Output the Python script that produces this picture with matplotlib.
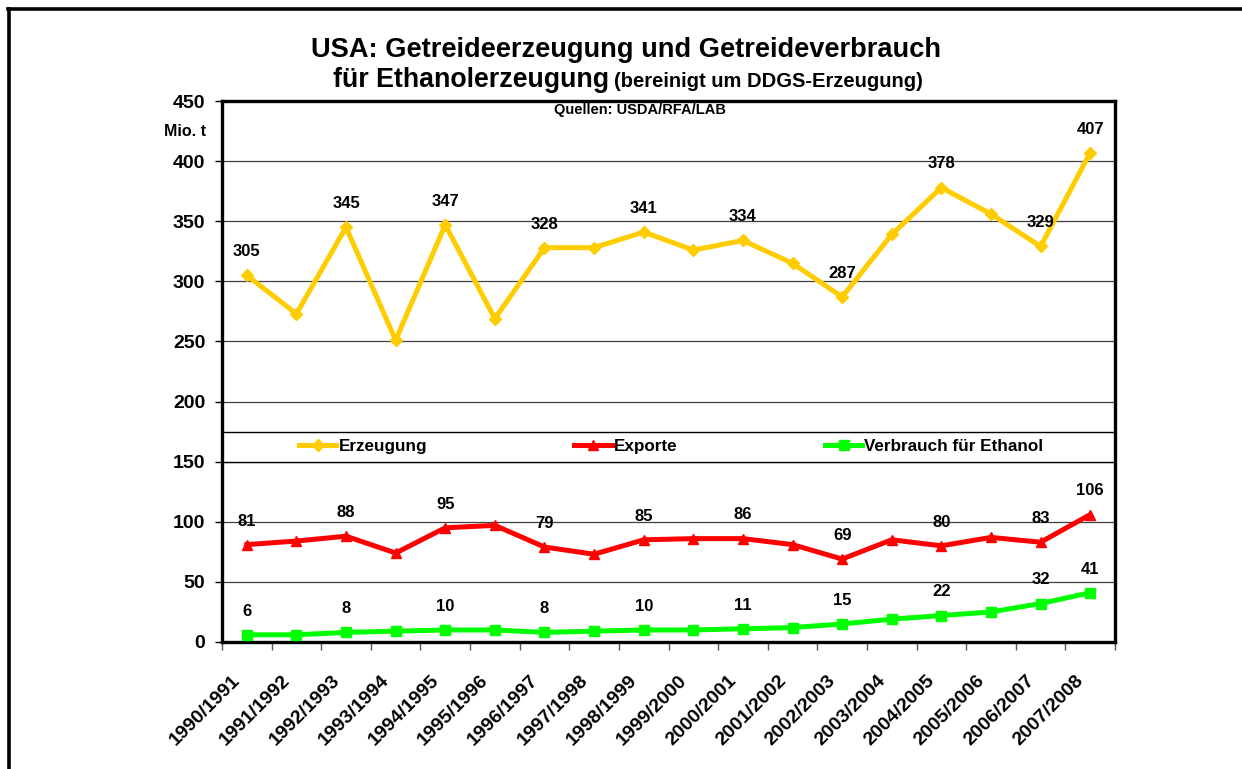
import matplotlib
matplotlib.use("Agg")
import matplotlib.pyplot as plt
from matplotlib.lines import Line2D
from matplotlib.patches import Rectangle
from matplotlib.transforms import ScaledTranslation

plt.rcParams['font.family'] = ['Liberation Sans', 'DejaVu Sans']
plt.rcParams['font.weight'] = 'bold'

# Daten (Mio. t)
jahre = ['1990/1991', '1991/1992', '1992/1993', '1993/1994', '1994/1995', '1995/1996',
         '1996/1997', '1997/1998', '1998/1999', '1999/2000', '2000/2001', '2001/2002',
         '2002/2003', '2003/2004', '2004/2005', '2005/2006', '2006/2007', '2007/2008']
erzeugung = [305, 273, 345, 251, 347, 269, 328, 328, 341, 326, 334, 315, 287, 339, 378, 356, 329, 407]
exporte = [81, 84, 88, 74, 95, 97, 79, 73, 85, 86, 86, 81, 69, 85, 80, 87, 83, 106]
ethanol = [6, 6, 8, 9, 10, 10, 8, 9, 10, 10, 11, 12, 15, 19, 22, 25, 32, 41]
# Punkte mit Datenbeschriftung
label_idx = [0, 2, 4, 6, 8, 10, 12, 14, 16, 17]

fig = plt.figure(figsize=(12.42, 7.69), dpi=100)
ax = fig.add_axes([222 / 1242, 1 - 642 / 769, (1115 - 222) / 1242, (642 - 101) / 769])

x = list(range(len(jahre)))
serien = [
    (erzeugung, 'Erzeugung', '#FFCC00', 'D', 6.5),
    (exporte, 'Exporte', '#FF0000', '^', 7.5),
    (ethanol, 'Verbrauch für Ethanol', '#00FF00', 's', 7),
]
handles = []
for werte, name, farbe, marker, ms in serien:
    h, = ax.plot(x, werte, color=farbe, lw=3.6, marker=marker, ms=ms,
                 markeredgecolor=farbe, label=name, zorder=3)
    handles.append(h)
    for i in label_idx:
        ax.annotate(str(werte[i]), (x[i], werte[i]), xytext=(0, 17),
                    textcoords='offset points', ha='center', va='center',
                    fontsize=12, fontweight='bold', zorder=4)

ax.set_xlim(-0.5, len(jahre) - 0.5)
ax.set_ylim(0, 450)
ax.set_yticks(range(0, 451, 50))
ax.tick_params(axis='y', length=5, width=1, pad=7, labelsize=14, direction='out')
ax.grid(axis='y', color='#404040', lw=0.9, zorder=0)

# Kategorien: Striche an den Grenzen, Beschriftung in der Mitte
ax.set_xticks(x)
ax.set_xticklabels(jahre, rotation=45, ha='right', va='center',
                   rotation_mode='anchor', fontsize=14, fontweight='bold')
ax.tick_params(axis='x', which='major', length=0, pad=26)
ax.set_xticks([i - 0.5 for i in range(len(jahre) + 1)], minor=True)
ax.tick_params(axis='x', which='minor', length=6, width=1, color='#555555', direction='out')
for lbl in ax.get_xticklabels():
    lbl.set_transform(lbl.get_transform() + ScaledTranslation(-0.09, 0, fig.dpi_scale_trans))

for s in ax.spines.values():
    s.set_linewidth(2.4)
    s.set_color('black')

# Legende mit Rahmen über die ganze Breite
ax.add_patch(Rectangle((0, 150 / 450), 1, 24.5 / 450, transform=ax.transAxes,
                       facecolor='white', edgecolor='black', lw=1.0, zorder=2.5))
ax.legend(handles=handles, ncol=3, mode='expand', frameon=False,
          bbox_to_anchor=(0.086, 0.3345, 0.834, 0.054), loc='center',
          borderaxespad=0, borderpad=0, handlelength=2.2, handletextpad=0.12,
          prop={'size': 12.3, 'weight': 'bold'})

# Titel
fig.text(626 / 1242, 1 - 57 / 769, 'USA: Getreideerzeugung und Getreideverbrauch',
         ha='center', va='baseline', fontsize=19.6, fontweight='bold')
fig.text(609 / 1242, 1 - 87 / 769, 'für Ethanolerzeugung',
         ha='right', va='baseline', fontsize=19.3, fontweight='bold')
fig.text(614 / 1242, 1 - 87 / 769, '(bereinigt um DDGS-Erzeugung)',
         ha='left', va='baseline', fontsize=14.5, fontweight='bold')
fig.text(640 / 1242, 1 - 110 / 769, 'Quellen: USDA/RFA/LAB',
         ha='center', va='center', fontsize=10.5, fontweight='bold')
fig.text(206 / 1242, 1 - 131 / 769, 'Mio. t',
         ha='right', va='center', fontsize=11.5, fontweight='bold')

# Rahmen um das Diagramm
fig.add_artist(Line2D([8 / 1242, 1.0], [1 - 9 / 769, 1 - 9 / 769], color='black', lw=2.6,
                      transform=fig.transFigure))
fig.add_artist(Line2D([9 / 1242, 9 / 1242], [0.0, 1 - 9 / 769], color='black', lw=2.6,
                      transform=fig.transFigure))

fig.savefig('out.png', dpi=100)
